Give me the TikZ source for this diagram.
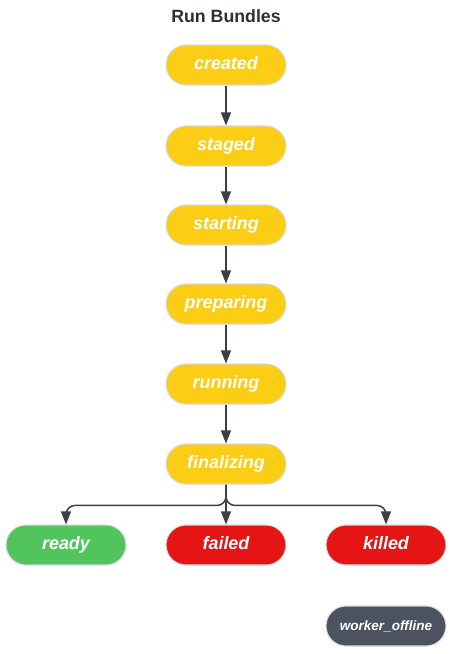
\documentclass[tikz,border=0pt]{standalone}
\usepackage{fontspec}
\setmainfont{Liberation Sans}
\usepackage{xcolor}
\usepackage{tikz}
\usetikzlibrary{arrows.meta,positioning,shapes,calc}
\definecolor{stateyellow}{HTML}{FBCD14}
\definecolor{stategreen}{HTML}{52C45E}
\definecolor{statered}{HTML}{E61515}
\definecolor{stategray}{HTML}{4B5260}
\definecolor{edgegray}{HTML}{3A3F4A}
\definecolor{titlegray}{HTML}{2B2F36}
\tikzset{
  state/.style={draw=black!15, line width=0.6pt, rounded corners=0.4cm,
    minimum width=2.4cm, minimum height=0.8cm, inner sep=0pt,
    text height=0.26cm, text depth=0.07cm,
    text=white, font=\fontsize{10.2}{12}\selectfont\bfseries\itshape},
  trans/.style={draw=edgegray, line width=0.85pt,
    -{Triangle[length=0.26cm,width=0.2cm]}}
}

\begin{document}
\begin{tikzpicture}[x=0.02cm,y=-0.02cm]
    \useasboundingbox (0,0) rectangle (455,654);
    \node[text=titlegray, font=\fontsize{10.1}{12}\selectfont\bfseries] at (226,16) (title) {Run Bundles};

    \node[state, fill=stateyellow] at (226,65) (created) {created};
    \node[state, fill=stateyellow] at (226,146) (staged) {staged};
    \node[state, fill=stateyellow] at (226,225) (starting) {starting};
    \node[state, fill=stateyellow] at (226,304) (preparing) {preparing};
    \node[state, fill=stateyellow] at (226,384) (running) {running};
    \node[state, fill=stateyellow] at (226,464) (finalizing) {finalizing};

    \node[state, fill=stategreen] at (66,545) (ready) {ready};
    \node[state, fill=statered] at (226,545) (failed) {failed};
    \node[state, fill=statered] at (386,545) (killed) {killed};
    \node[state, fill=stategray, font=\fontsize{7.7}{9}\selectfont\bfseries\itshape] at (386,626) (offline) {worker\_offline};

    \draw[trans] (created)-- (staged);
    \draw[trans] (staged)-- (starting);
    \draw[trans] (starting)-- (preparing);
    \draw[trans] (preparing)-- (running);
    \draw[trans] (running)-- (finalizing);

    \draw[trans, rounded corners=0.18cm] (finalizing.south) |- ($(ready.north)+(0,-19)$) -- (ready.north);
    \draw[trans] (finalizing)-- (failed);
    \draw[trans, rounded corners=0.18cm] (finalizing.south) |- ($(killed.north)+(0,-19)$) -- (killed.north);
\end{tikzpicture}
\end{document}
